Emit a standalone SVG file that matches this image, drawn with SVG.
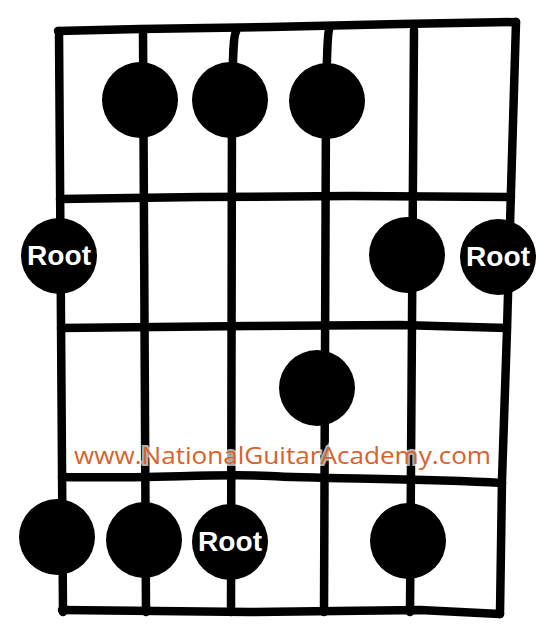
<svg xmlns="http://www.w3.org/2000/svg" width="553" height="634" viewBox="0 0 553 634">
<style>
.ln{fill:none;stroke:#000;stroke-width:8.5;stroke-linecap:round;stroke-linejoin:round}
.dot{fill:#000}
.rt{fill:#fff;font-family:"Liberation Sans",Arial,sans-serif;font-weight:bold;font-size:27px;text-anchor:middle}
.wm{fill:#d9622b;font-family:"Open Sans","DejaVu Sans",sans-serif;font-size:24px;stroke:#fff;stroke-opacity:0.7;stroke-width:4;paint-order:stroke}
</style>
<rect width="553" height="634" fill="#fff"/>
<g id="grid">
<path class="ln" d="M58,31 L140,29 L270,27 L400,24 L516,22"/>
<path class="ln" d="M516,22 L511,190 L507,330 L502,480 L500,614"/>
<path class="ln" d="M59,31 L63,612"/>
<path class="ln" d="M62,610 L250,612 L420,610 L500,614"/>
<path class="ln" d="M60,199 L200,197 L350,196 L511,197"/>
<path class="ln" d="M61,328 L250,326 L400,325 L507,328"/>
<path class="ln" d="M62,477 C150,479 220,473 270,476 S420,478 502,483"/>
<path class="ln" d="M143,30 L146,612"/>
<path class="ln" d="M236,32 C233,36 233,60 232,100 L231,612"/>
<path class="ln" d="M329,30 C327,36 327,60 326,100 L324,612"/>
<path class="ln" d="M414,30 L410,612"/>
</g>
<g id="n1"><circle class="dot" cx="140" cy="100" r="38"/></g>
<g id="n2"><circle class="dot" cx="230" cy="100" r="38"/></g>
<g id="n3"><circle class="dot" cx="327" cy="101" r="38"/></g>
<g id="n4"><circle class="dot" cx="59" cy="256" r="38"/><text class="rt" x="59" y="265" textLength="64" lengthAdjust="spacingAndGlyphs">Root</text></g>
<g id="n5"><circle class="dot" cx="407" cy="255" r="38"/></g>
<g id="n6"><circle class="dot" cx="498" cy="257" r="38"/><text class="rt" x="498" y="266" textLength="64" lengthAdjust="spacingAndGlyphs">Root</text></g>
<g id="n7"><circle class="dot" cx="317" cy="388" r="38"/></g>
<g id="n8"><circle class="dot" cx="57" cy="537" r="38"/></g>
<g id="n9"><circle class="dot" cx="144" cy="540" r="38"/></g>
<g id="n10"><circle class="dot" cx="230" cy="542" r="38"/><text class="rt" x="230" y="551" textLength="64" lengthAdjust="spacingAndGlyphs">Root</text></g>
<g id="n11"><circle class="dot" cx="408" cy="541" r="38"/></g>
<text class="wm" x="74" y="464" textLength="417" lengthAdjust="spacingAndGlyphs">www.NationalGuitarAcademy.com</text>
</svg>
